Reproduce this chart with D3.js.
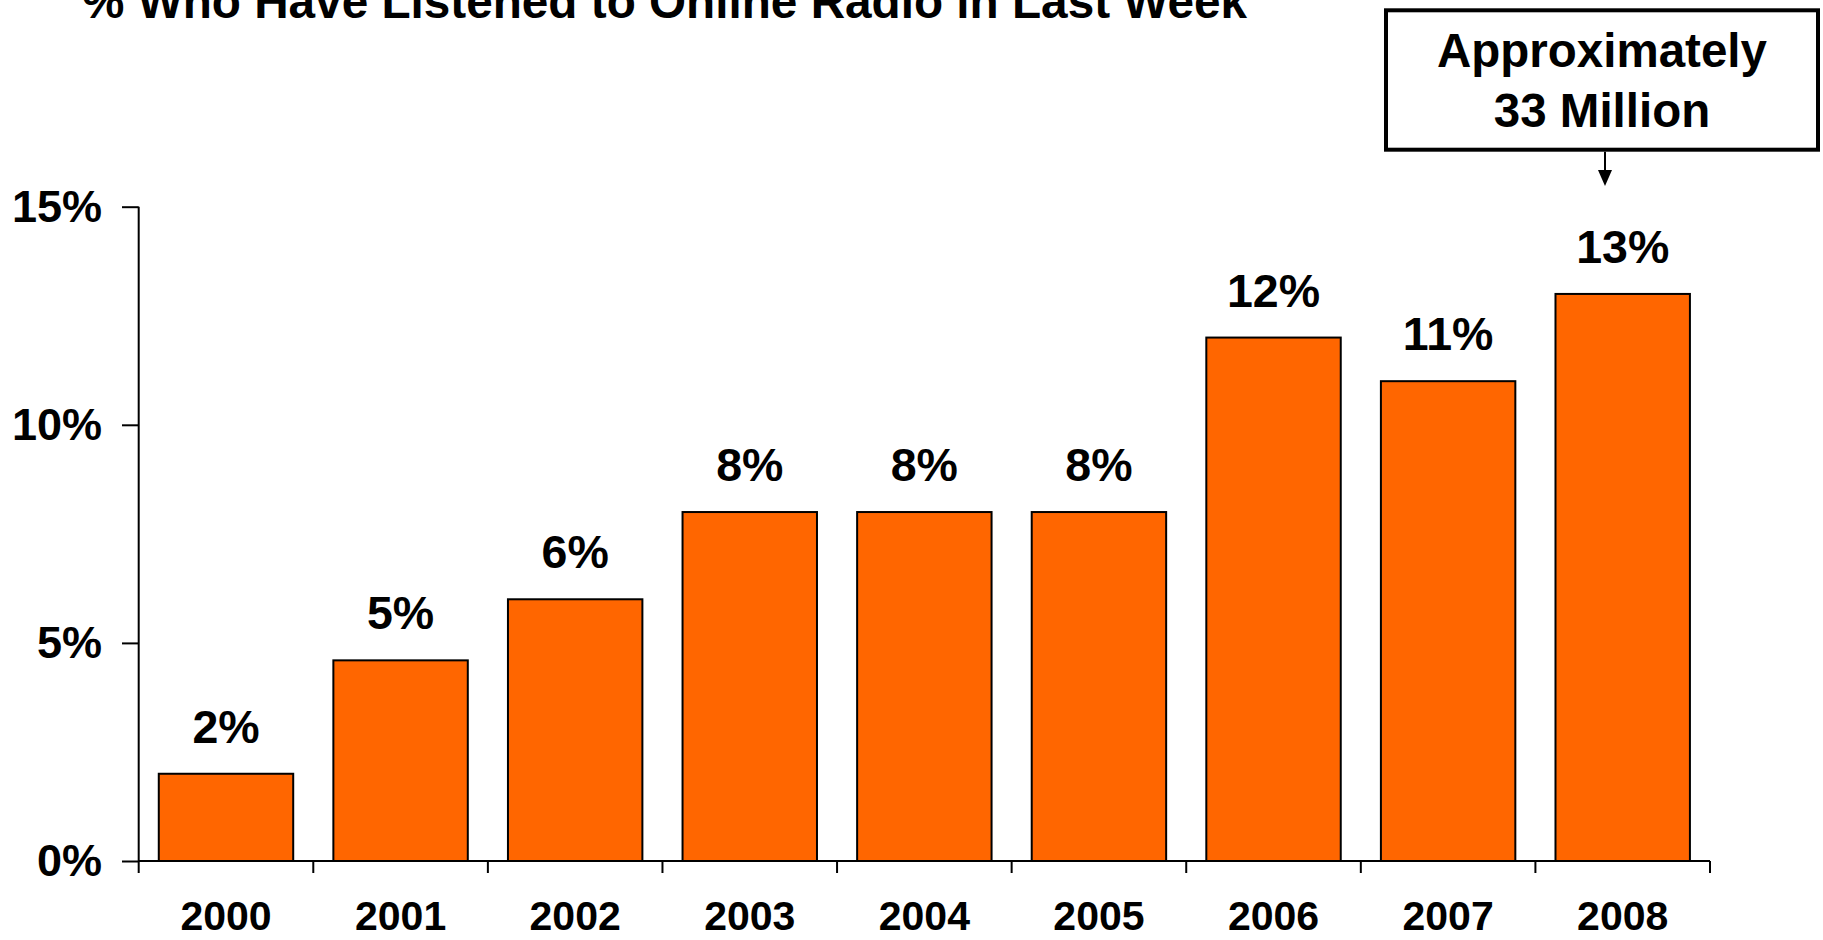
<!DOCTYPE html>
<html>
<head>
<meta charset="utf-8">
<script src="https://cdn.jsdelivr.net/npm/d3@7/dist/d3.min.js"></script>
<style>
  html, body { margin: 0; padding: 0; background: #fff; }
  svg { display: block; }
  text { font-family: "Liberation Sans", Arial, Helvetica, sans-serif; font-weight: bold; fill: #000; }
</style>
</head>
<body>
<svg id="chart" width="1823" height="940"></svg>
<script>
// ---- Data ----
const years = ["2000", "2001", "2002", "2003", "2004", "2005", "2006", "2007", "2008"];
const values = [2, 4.6, 6, 8, 8, 8, 12, 11, 13];
const valueLabels = ["2%", "5%", "6%", "8%", "8%", "8%", "12%", "11%", "13%"];
const yTicks = [0, 5, 10, 15];
const yTickLabels = ["0%", "5%", "10%", "15%"];
const titleText = "% Who Have Listened to Online Radio in Last Week";
const annotationLines = ["Approximately", "33 Million"];

// ---- Layout ----
const plot = { left: 138.7, right: 1710, top: 206.7, bottom: 861 };
const barColor = "#FF6600";

const svg = d3.select("#chart");

const x = d3.scaleBand()
  .domain(years)
  .range([plot.left, plot.right])
  .paddingInner(0.23)
  .paddingOuter(0.115);

const y = d3.scaleLinear()
  .domain([0, 15])
  .range([plot.bottom, plot.top]);

// Title (clipped at top as in reference)
svg.append("text")
  .attr("x", 82)
  .attr("y", 17.5)
  .attr("font-size", 47.7)
  .text(titleText);

// Bars
svg.append("g").selectAll("rect")
  .data(values)
  .join("rect")
  .attr("x", (d, i) => x(years[i]))
  .attr("y", d => y(d))
  .attr("width", x.bandwidth())
  .attr("height", d => y(0) - y(d))
  .attr("fill", barColor)
  .attr("stroke", "#000")
  .attr("stroke-width", 2);

// Value labels
svg.append("g").selectAll("text")
  .data(values)
  .join("text")
  .attr("x", (d, i) => x(years[i]) + x.bandwidth() / 2)
  .attr("y", d => y(d) - 31)
  .attr("text-anchor", "middle")
  .attr("font-size", 46.5)
  .text((d, i) => valueLabels[i]);

// Y axis
const yAxis = d3.axisLeft(y)
  .tickValues(yTicks)
  .tickFormat((d, i) => yTickLabels[i])
  .tickSize(16.7)
  .tickSizeOuter(0)
  .tickPadding(20);

const gy = svg.append("g")
  .attr("transform", `translate(${plot.left},0)`)
  .call(yAxis);
gy.select(".domain").remove();
gy.selectAll(".tick line").attr("stroke", "#000").attr("stroke-width", 2);
gy.selectAll(".tick text")
  .attr("font-size", 45)
  .attr("font-family", "'Liberation Sans', Arial, sans-serif")
  .attr("font-weight", "bold")
  .attr("fill", "#000");

// Y axis line (extends below baseline like an x tick)
svg.append("line")
  .attr("x1", plot.left).attr("x2", plot.left)
  .attr("y1", y(15)).attr("y2", y(0) + 12)
  .attr("stroke", "#000").attr("stroke-width", 2);

// X axis baseline
svg.append("line")
  .attr("x1", plot.left).attr("x2", plot.right)
  .attr("y1", y(0)).attr("y2", y(0))
  .attr("stroke", "#000").attr("stroke-width", 2);

// X ticks at category boundaries
const step = x.step();
const boundaries = years.map(d => x(d) - step * x.paddingInner() / 2);
boundaries.push(plot.right);
svg.append("g").selectAll("line")
  .data(boundaries.slice(1))
  .join("line")
  .attr("x1", d => d).attr("x2", d => d)
  .attr("y1", y(0)).attr("y2", y(0) + 12)
  .attr("stroke", "#000").attr("stroke-width", 2);

// X labels
svg.append("g").selectAll("text")
  .data(years)
  .join("text")
  .attr("x", d => x(d) + x.bandwidth() / 2)
  .attr("y", 930)
  .attr("text-anchor", "middle")
  .attr("font-size", 41)
  .text(d => d);

// Annotation box
const box = { x: 1386, y: 10.3, w: 432, h: 139.4 };
svg.append("rect")
  .attr("x", box.x).attr("y", box.y)
  .attr("width", box.w).attr("height", box.h)
  .attr("fill", "#fff")
  .attr("stroke", "#000")
  .attr("stroke-width", 4);

svg.append("g").selectAll("text")
  .data(annotationLines)
  .join("text")
  .attr("x", box.x + box.w / 2)
  .attr("y", (d, i) => 66.7 + i * 60)
  .attr("text-anchor", "middle")
  .attr("font-size", 47.5)
  .text(d => d);

// Arrow
const arrowX = 1605;
svg.append("line")
  .attr("x1", arrowX).attr("x2", arrowX)
  .attr("y1", box.y + box.h + 2).attr("y2", 172)
  .attr("stroke", "#000").attr("stroke-width", 2);
svg.append("path")
  .attr("d", `M${arrowX - 7},170 L${arrowX + 7},170 L${arrowX},186 Z`)
  .attr("fill", "#000");
</script>
</body>
</html>
